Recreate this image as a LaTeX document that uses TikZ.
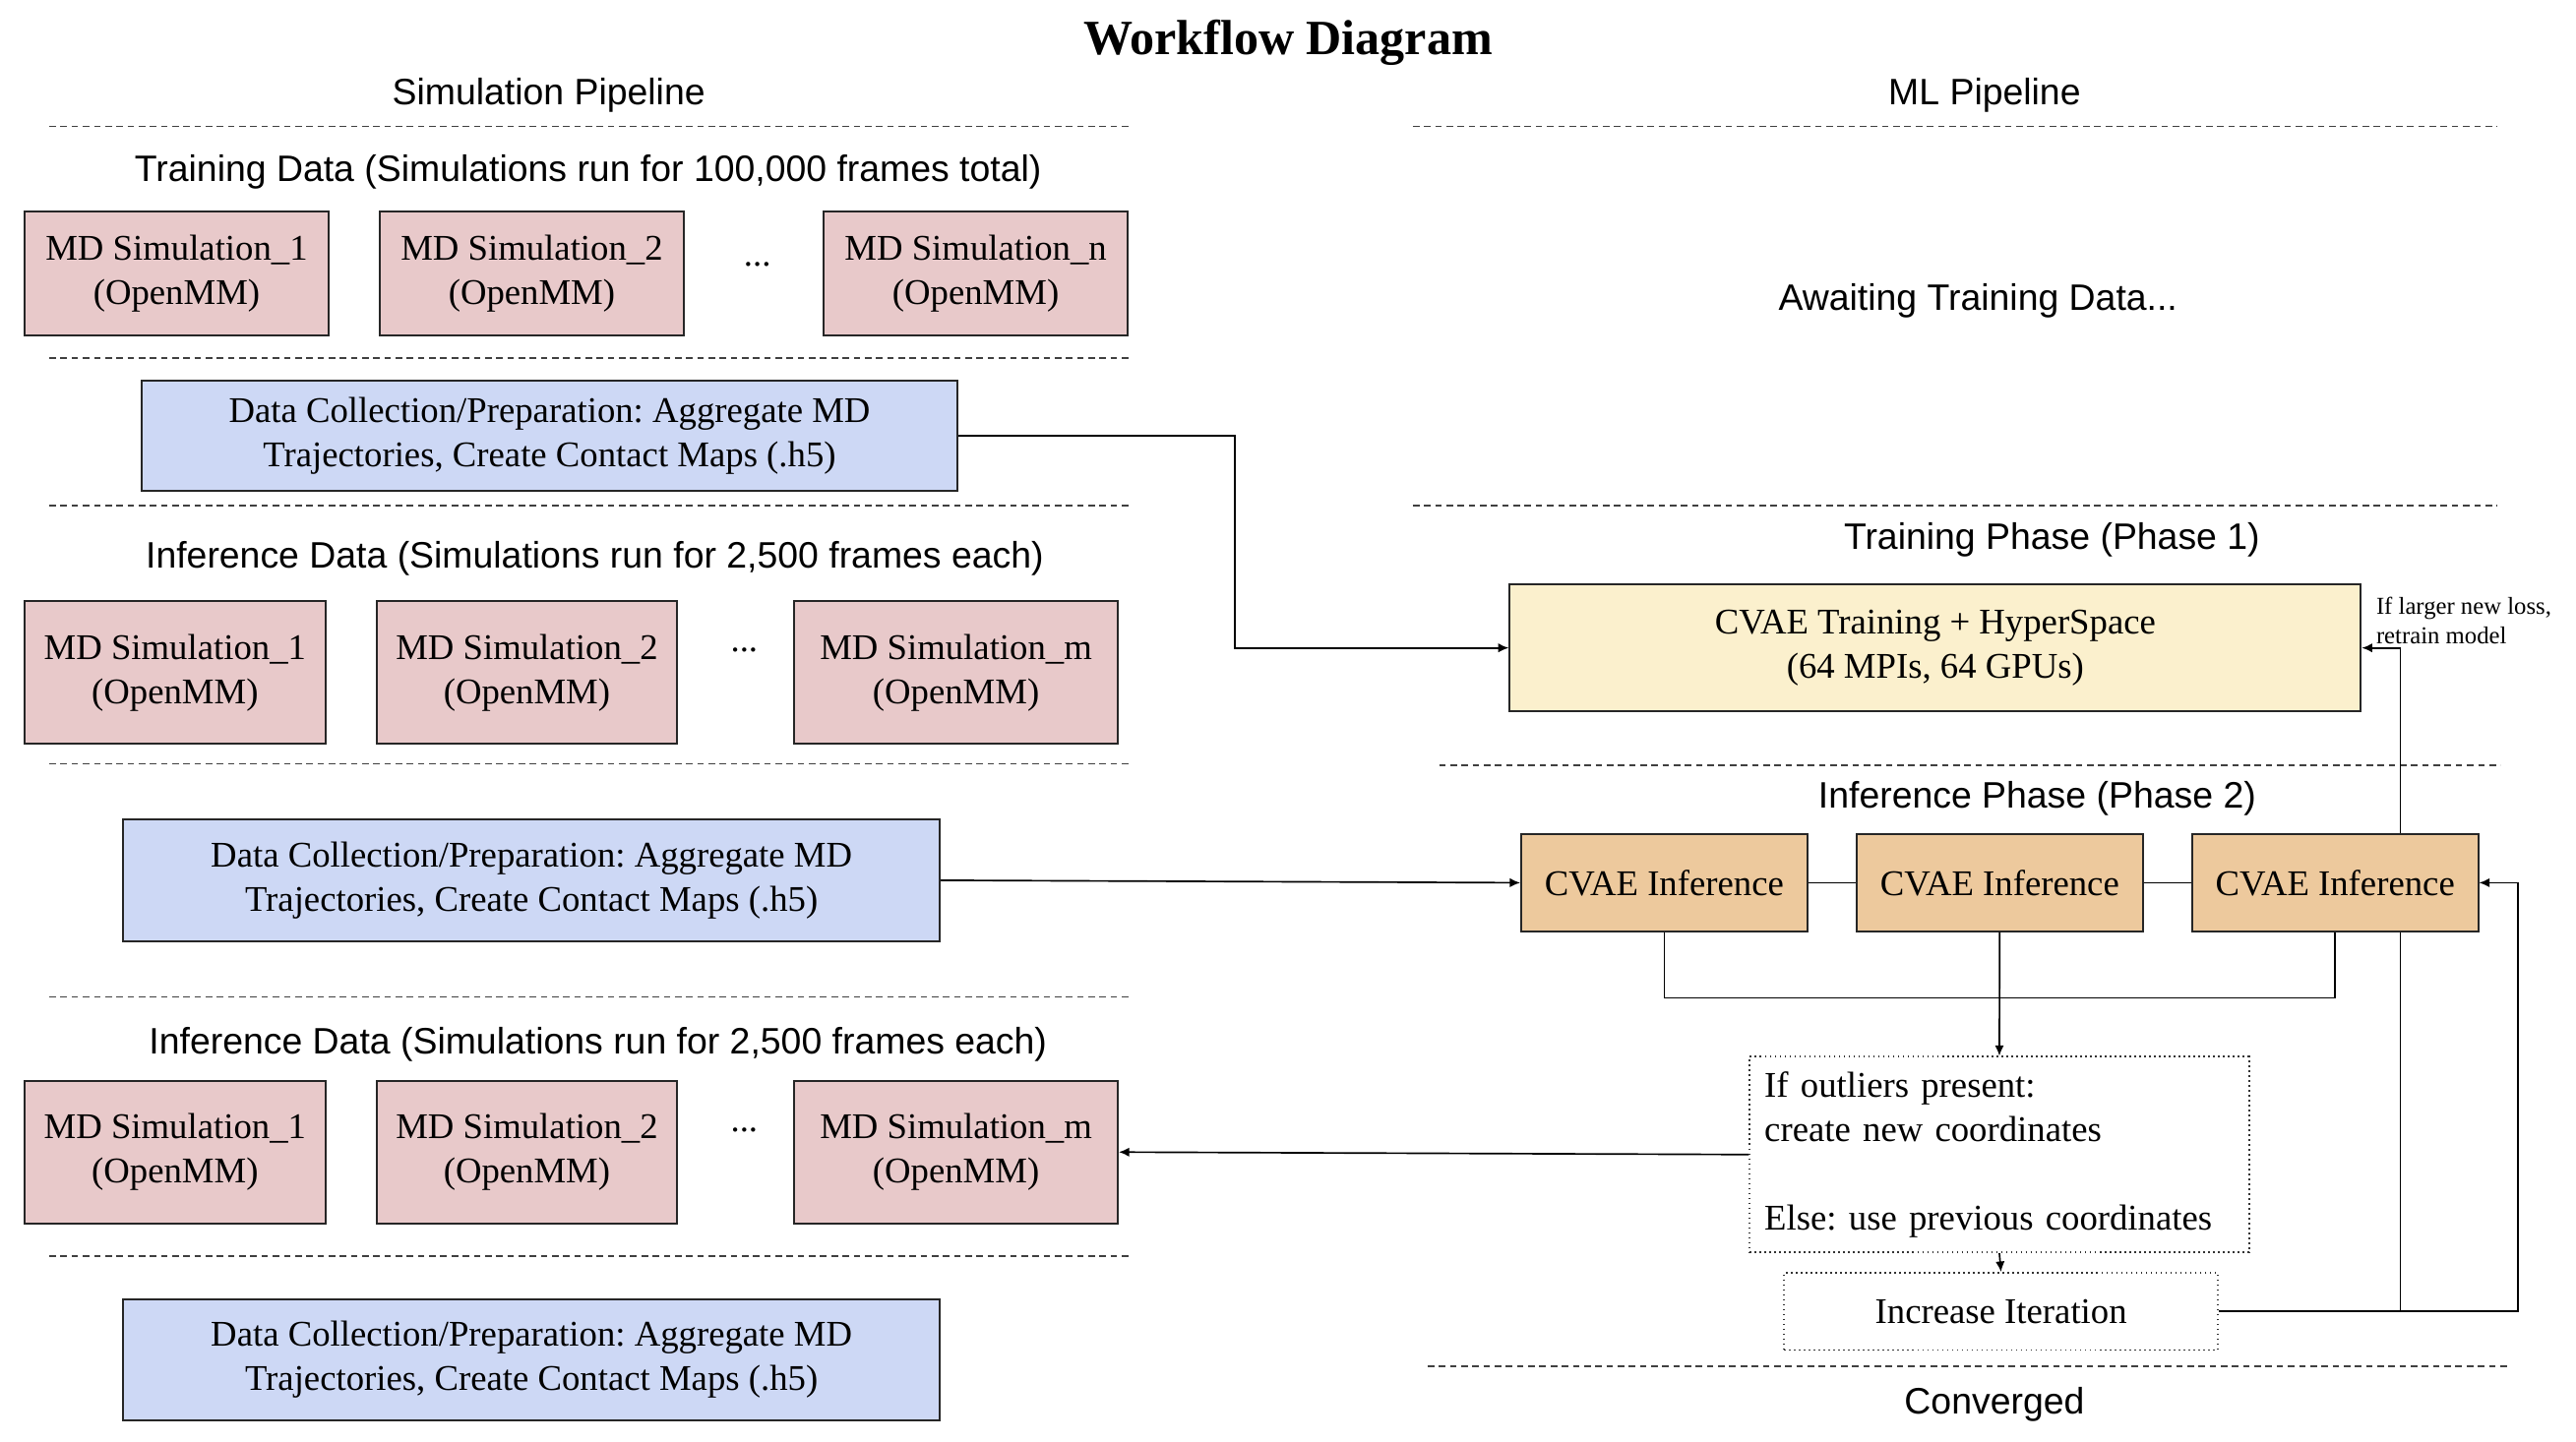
\documentclass[tikz,border=0pt]{standalone}
\usepackage{fontspec}
\setmainfont{Liberation Serif}
\setsansfont{Liberation Sans}
\usepackage{xcolor}
\usepackage{tikz}
\usetikzlibrary{arrows.meta, positioning}
\frenchspacing
\definecolor{simpink}{HTML}{E8C9CA}
\definecolor{prepblue}{HTML}{CDD8F5}
\definecolor{trainyellow}{HTML}{FBF0CD}
\definecolor{infertan}{HTML}{EDC99D}
\newcommand{\boxfont}{\fontsize{11}{13.5}\selectfont}
\newcommand{\labfont}{\sffamily\fontsize{11.2}{13.5}\selectfont}
\newcommand{\notefont}{\fontsize{7.4}{9}\selectfont}
\tikzset{
  simbox/.style   = {rectangle, draw=black!85, line width=0.6pt,
                     fill=simpink, align=center, inner sep=2pt,
                     minimum width=91.5pt, minimum height=43.5pt,
                     font=\boxfont},
  prepbox/.style  = {rectangle, draw=black!85, line width=0.6pt,
                     fill=prepblue, align=center, inner sep=2pt,
                     minimum width=248.5pt, minimum height=37pt,
                     font=\boxfont},
  trainbox/.style = {rectangle, draw=black!85, line width=0.6pt,
                     fill=trainyellow, align=center, inner sep=2pt,
                     minimum width=259pt, minimum height=38.5pt,
                     font=\boxfont},
  inferbox/.style = {rectangle, draw=black!85, line width=0.6pt,
                     fill=infertan, align=center, inner sep=2pt,
                     minimum width=87pt, minimum height=29.5pt,
                     font=\boxfont},
  notebox/.style  = {rectangle, draw=black!80, line width=0.5pt,
                     dash pattern=on 0.5pt off 1pt, inner sep=2pt,
                     font=\boxfont},
  lab/.style      = {font=\labfont, inner sep=0pt},
  divider/.style  = {draw=black!75, line width=0.5pt,
                     dash pattern=on 2pt off 1.4pt},
  conn/.style     = {line width=0.5pt},
  arr/.style      = {-{Latex[length=3.2pt, width=2.8pt]}, line width=0.5pt},
}
\begin{document}
\begin{tikzpicture}[x=0.5pt, y=-0.5pt]
\useasboundingbox (0,0) rectangle (1568,878);

% ── Headings ────────────────────────────────────────────
\node[font=\bfseries\fontsize{15}{18}\selectfont] (title) at (784,26) {Workflow Diagram};
\node[lab] (simhead) at (334,58) {Simulation Pipeline};
\node[lab] (mlhead) at (1208,58) {ML Pipeline};

% ── Dividers ────────────────────────────────────────────
\draw[divider] (30,77) -- (688,77);
\draw[divider] (860,77) -- (1520,77);
\draw[divider] (30,218) -- (688,218);
\draw[divider] (30,308) -- (688,308);
\draw[divider] (860,308) -- (1520,308);
\draw[divider] (30,465) -- (688,465);
\draw[divider] (876,466) -- (1522,466);
\draw[divider] (30,607) -- (688,607);
\draw[divider] (30,765) -- (688,765);
\draw[divider] (869,832) -- (1526,832);

% ── Training data ───────────────────────────────────────
\node[lab] (trainlab) at (358,105) {Training Data (Simulations run for 100,000 frames total)};
\node[simbox, minimum width=92.5pt, minimum height=37.5pt] (s1a) at (107.5,166.5)
      {MD Simulation\_1\\(OpenMM)};
\node[simbox, minimum width=92.5pt, minimum height=37.5pt, right=15pt of s1a] (s2a)
      {MD Simulation\_2\\(OpenMM)};
\node[simbox, minimum width=92.5pt, minimum height=37.5pt, right=42pt of s2a] (sna)
      {MD Simulation\_n\\(OpenMM)};
\node[font=\boxfont] (dotsa) at (461,161) {...};

\node[prepbox, minimum height=33.5pt] (dc1) at (334.5,265.5)
      {Data Collection/Preparation: Aggregate MD\\Trajectories, Create Contact Maps (.h5)};

% ── Inference data (first round) ────────────────────────
\node[lab] (inflab1) at (362,340) {Inference Data (Simulations run for 2,500 frames each)};
\node[simbox] (s1b) at (106.5,409.5) {MD Simulation\_1\\(OpenMM)};
\node[simbox, right=15pt of s1b] (s2b) {MD Simulation\_2\\(OpenMM)};
\node[simbox, minimum width=98.5pt, right=35pt of s2b] (smb) {MD Simulation\_m\\(OpenMM)};
\node[font=\boxfont] (dotsb) at (453,396) {...};

\node[prepbox] (dc2) at (323.5,536)
      {Data Collection/Preparation: Aggregate MD\\Trajectories, Create Contact Maps (.h5)};

% ── Inference data (next round) ─────────────────────────
\node[lab] (inflab2) at (364,636) {Inference Data (Simulations run for 2,500 frames each)};
\node[simbox] (s1c) at (106.5,701.5) {MD Simulation\_1\\(OpenMM)};
\node[simbox, right=15pt of s1c] (s2c) {MD Simulation\_2\\(OpenMM)};
\node[simbox, minimum width=98.5pt, right=35pt of s2c] (smc) {MD Simulation\_m\\(OpenMM)};
\node[font=\boxfont] (dotsc) at (453,688) {...};

\node[prepbox] (dc3) at (323.5,828)
      {Data Collection/Preparation: Aggregate MD\\Trajectories, Create Contact Maps (.h5)};

% ── ML pipeline ─────────────────────────────────────────
\node[lab] (await) at (1204,183) {Awaiting Training Data...};
\node[lab] (phase1) at (1249,329) {Training Phase (Phase 1)};
\node[trainbox] (train) at (1178,394.5)
      {CVAE Training + HyperSpace\\(64 MPIs, 64 GPUs)};
\node[font=\notefont, align=left, anchor=west, inner sep=0pt] (retrain) at (1446,378)
      {If larger new loss,\\retrain model};

\node[lab] (phase2) at (1240,486) {Inference Phase (Phase 2)};
\node[inferbox] (inf1) at (1013,537.5) {CVAE Inference};
\node[inferbox, right=14.5pt of inf1] (inf2) {CVAE Inference};
\node[inferbox, right=14.5pt of inf2] (inf3) {CVAE Inference};

\node[notebox, align=left, text width=143pt, inner sep=4.5pt,
      minimum height=55pt] (outl) at (1217,703)
      {If outliers present:\\create new coordinates\\[13.5pt]Else: use previous coordinates};
\node[notebox, minimum width=132pt, minimum height=23.5pt] (iter) at (1218,798.5)
      {Increase Iteration};
\node[lab] (conv) at (1214,855) {Converged};
\coordinate (fork) at (1461,798.5);

% ── Connectors ──────────────────────────────────────────
\draw[arr] (dc1.east) -- ++(168,0) |- (train.west);
\draw[arr] (dc2.east) -- (inf1.west);
\draw[conn] (inf1) -- (inf2);
\draw[conn] (inf2) -- (inf3);
\draw[conn] (inf1.south) -- ++(0,40) -| (inf3.south);
\draw[arr] (inf2.south) -- (outl.north);
\draw[arr] (outl.south) -- (iter.north);
\draw[arr] (outl.west) -- (smc.east);
\draw[arr] (iter.east) -- ++(182,0) |- (inf3.east);
\draw[arr] (fork) |- (train.east);

% redraw the last inference box over the feedback line
\node[inferbox] at (inf3) {CVAE Inference};

\end{tikzpicture}
\end{document}
